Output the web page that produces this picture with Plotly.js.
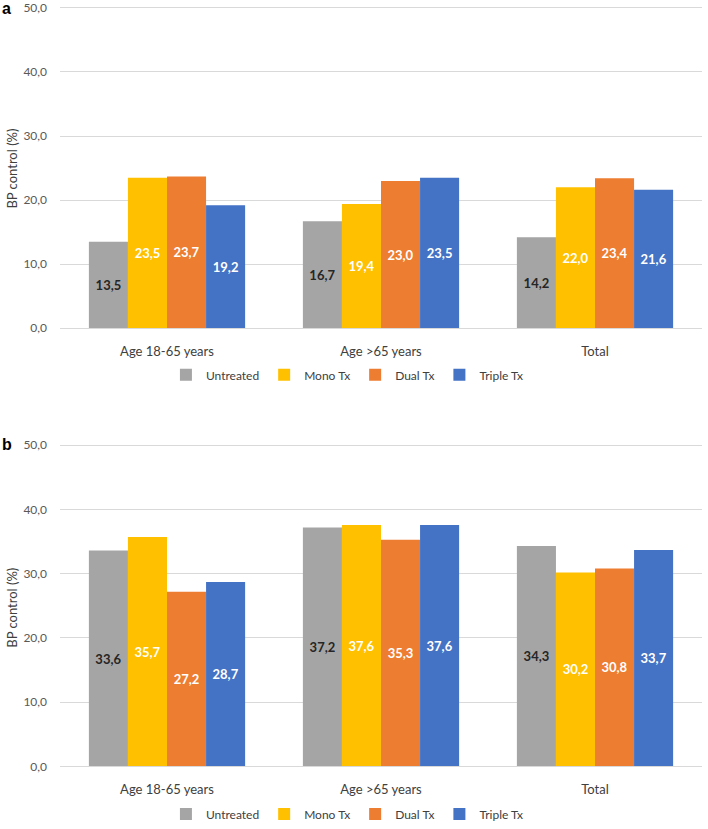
<!DOCTYPE html>
<html>
<head>
<meta charset="utf-8">
<script src="https://cdn.plot.ly/plotly-3.0.1.min.js"></script>
<style>
  html, body { margin: 0; padding: 0; background: #fff; }
  #plot { width: 708px; height: 829px; }
</style>
</head>
<body>
<div id="plot"></div>
<script>
var categories = ['Age 18-65 years', 'Age >65 years', 'Total'];
var seriesNames = ['Untreated', 'Mono Tx', 'Dual Tx', 'Triple Tx'];
var seriesColors = ['#a5a5a5', '#ffc000', '#ed7d31', '#4472c4'];
var labelColors = ['#262626', '#ffffff', '#ffffff', '#ffffff'];

// panel a
var untreatedA = [13.5, 16.7, 14.2];
var monoA = [23.5, 19.4, 22.0];
var dualA = [23.7, 23.0, 23.4];
var tripleA = [19.2, 23.5, 21.6];

// panel b
var untreatedB = [33.6, 37.2, 34.3];
var monoB = [35.7, 37.6, 30.2];
var dualB = [27.2, 35.3, 30.8];
var tripleB = [28.7, 37.6, 33.7];

var yTicks = [0, 10, 20, 30, 40, 50];

var fontFam = 'Lato, "Open Sans", sans-serif';
var valuesA = [untreatedA, monoA, dualA, tripleA];
var valuesB = [untreatedB, monoB, dualB, tripleB];

var data = [];
function addPanel(values, xa, ya, legendId) {
    for (var i = 0; i < seriesNames.length; i++) {
        data.push({
            type: 'bar',
            x: categories,
            y: values[i],
            name: seriesNames[i],
            xaxis: xa,
            yaxis: ya,
            legend: legendId,
            marker: { color: seriesColors[i], line: { width: 0 } },
            texttemplate: '%{y:.1f}',
            textposition: 'inside',
            insidetextanchor: 'middle',
            textangle: 0,
            constraintext: 'none',
            textfont: { family: fontFam, size: 13, color: labelColors[i], weight: 'bold' },
            hoverinfo: 'skip'
        });
    }
}
addPanel(valuesA, 'x', 'y', 'legend');
addPanel(valuesB, 'x2', 'y2', 'legend2');

function yAxis(domain, anchor) {
    return {
        domain: domain,
        anchor: anchor,
        range: [0, 50.3],
        tickvals: yTicks,
        tickformat: '.1f',
        showgrid: true,
        gridcolor: '#d9d9d9',
        gridwidth: 1,
        zeroline: false,
        showline: false,
        ticks: '',
        ticklabelstandoff: 12,
        ticklabeloverflow: 'allow',
        tickfont: { family: fontFam, size: 12, color: '#595959' },
        fixedrange: true
    };
}
function xAxis(anchor) {
    return {
        domain: [0, 1],
        anchor: anchor,
        showline: true,
        linecolor: '#d9d9d9',
        linewidth: 1,
        ticks: '',
        ticklabelstandoff: 11,
        tickfont: { family: fontFam, size: 13, color: '#404040' },
        fixedrange: true
    };
}
function legendAt(y) {
    return {
        orientation: 'h',
        x: 0.165,
        xanchor: 'left',
        y: y,
        yanchor: 'middle',
        font: { family: fontFam, size: 12, color: '#404040' },
        itemwidth: 30,
        traceorder: 'normal',
        bgcolor: 'rgba(0,0,0,0)'
    };
}
function yTitle(y) {
    return { text: 'BP control (%)', xref: 'paper', yref: 'paper', x: -0.0748, y: y, textangle: -90,
             xanchor: 'center', yanchor: 'middle', showarrow: false,
             font: { family: fontFam, size: 13, color: '#404040' } };
}

var layout = {
    width: 708,
    height: 829,
    margin: { l: 60, r: 6, t: 0, b: 0 },
    paper_bgcolor: '#ffffff',
    plot_bgcolor: '#ffffff',
    separators: ',.',
    barmode: 'group',
    bargap: 0.27,
    bargroupgap: 0,
    xaxis: xAxis('y'),
    yaxis: yAxis([0.6007, 0.99269], 'x'),
    xaxis2: xAxis('y2'),
    yaxis2: yAxis([0.0676, 0.46072], 'x2'),
    showlegend: true,
    legend: legendAt(0.5440),
    legend2: legendAt(0.0097),
    annotations: [
        { text: '<b>a</b>', xref: 'paper', yref: 'paper', x: -0.0935, y: 1.003, xanchor: 'left', yanchor: 'top',
          showarrow: false, font: { family: 'Liberation Sans, Arial, sans-serif', size: 16, color: '#000' } },
        { text: '<b>b</b>', xref: 'paper', yref: 'paper', x: -0.0935, y: 0.4596, xanchor: 'left', yanchor: 'middle',
          showarrow: false, font: { family: 'Liberation Sans, Arial, sans-serif', size: 16, color: '#000' } },
        yTitle(0.7949),
        yTitle(0.2606)
    ]
};

Plotly.newPlot('plot', data, layout, { displayModeBar: false, staticPlot: true });
</script>
</body>
</html>
